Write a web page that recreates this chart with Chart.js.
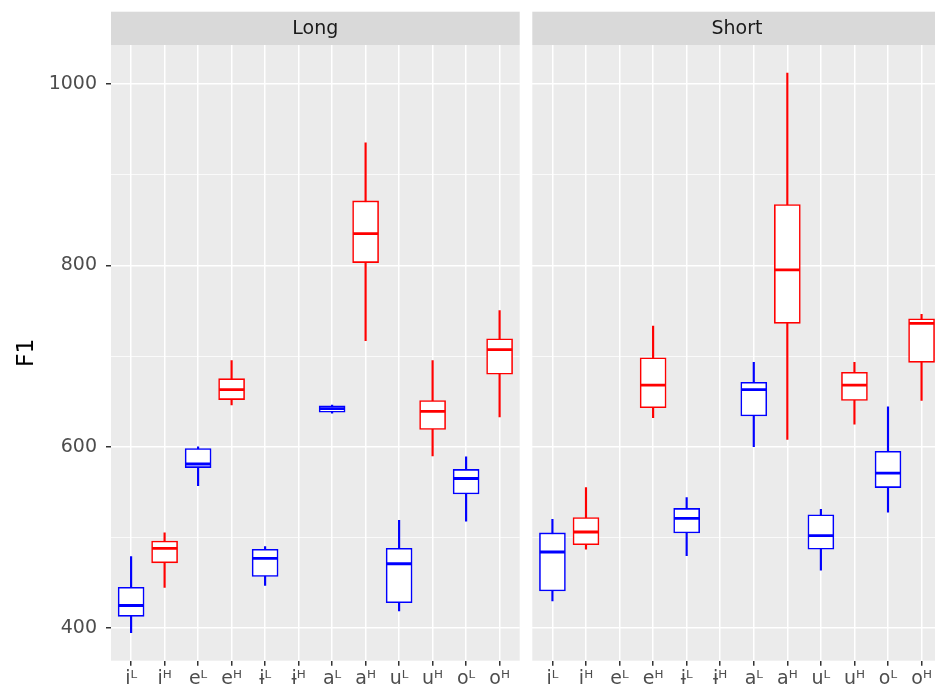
<!DOCTYPE html>
<html>
<head>
<meta charset="utf-8">
<script src="https://cdn.jsdelivr.net/npm/chart.js@4.4.1/dist/chart.umd.min.js"></script>
<style>
  html, body { margin: 0; padding: 0; background: #ffffff; overflow: hidden; width: 935px; height: 690px; }
  #wrap { position: relative; width: 935px; height: 690px; overflow: hidden; }
  canvas { position: absolute; top: 0; }
  #long { left: 0; }
  #short { left: 517px; }
</style>
</head>
<body>
<div id="wrap">
  <canvas id="long" width="535" height="690"></canvas>
  <canvas id="short" width="440" height="690"></canvas>
</div>
<script>
// Vowel categories (L = low tone, H = high tone)
const categories = ['iᴸ', 'iᴴ', 'eᴸ', 'eᴴ', 'ɨᴸ', 'ɨᴴ', 'aᴸ', 'aᴴ', 'uᴸ', 'uᴴ', 'oᴸ', 'oᴴ'];
const tones      = ['L',  'H',  'L',  'H',  'L',  'H',  'L',  'H',  'L',  'H',  'L',  'H'];

// F1 box-plot statistics, long vowels
const longMin    = [395, 445, 557, 646, 447, null, 637, 717, 419, 590, 518, 633];
const longQ1     = [413, 472, 577, 652, 457, null, 638, 803, 428, 619, 548, 680];
const longMedian = [425, 488, 581, 663, 477, null, 642, 835, 471, 639, 565, 707];
const longQ3     = [445, 496, 598, 675, 487, null, 645, 871, 488, 651, 575, 719];
const longMax    = [479, 505, 600, 695, 490, null, 646, 935, 519, 695, 589, 750];

// F1 box-plot statistics, short vowels
const shortMin    = [430, 487, null, 632, 480, null, 600, 608, 464, 625, 528, 651];
const shortQ1     = [441, 492, null, 643, 505, null, 634, 736, 487, 651, 555, 693];
const shortMedian = [484, 506, null, 668, 521, null, 663, 795, 502, 668, 571, 736];
const shortQ3     = [505, 522, null, 698, 532, null, 671, 867, 525, 682, 595, 741];
const shortMax    = [520, 555, null, 733, 544, null, 693, 1012, 531, 693, 644, 746];

const toneColor = { L: '#0000FF', H: '#FF0000' };

// shared y range with 5% expansion, like ggplot
const allVals = [...longMin, ...longMax, ...shortMin, ...shortMax].filter(v => v !== null);
const dataLo = Math.min(...allVals), dataHi = Math.max(...allVals);
const yPad = (dataHi - dataLo) * 0.05;
const yMin = dataLo - yPad, yMax = dataHi + yPad;

Chart.defaults.font.family = '"DejaVu Sans", sans-serif';

// grey panel background and facet strip
const panelPlugin = {
  id: 'panel',
  beforeDraw(chart, args, opts) {
    const { ctx, chartArea: a } = chart;
    ctx.save();
    ctx.fillStyle = '#EBEBEB';
    ctx.fillRect(a.left, a.top, a.right - a.left, a.bottom - a.top);
    ctx.fillStyle = '#D9D9D9';
    ctx.fillRect(a.left, opts.stripTop, a.right - a.left, a.top - opts.stripTop);
    ctx.fillStyle = '#1A1A1A';
    ctx.font = '19px "DejaVu Sans", sans-serif';
    ctx.textAlign = 'center';
    ctx.textBaseline = 'middle';
    ctx.fillText(opts.label, (a.left + a.right) / 2, (opts.stripTop + a.top) / 2 + 1);
    ctx.restore();
  }
};

function boxDatasets(lo, q1, med, q3, hi) {
  const idx = categories.map((_, i) => i).filter(i => med[i] !== null);
  const col = i => toneColor[tones[i]];
  return [
    { // whiskers
      type: 'bar', order: 3, grouped: false,
      data: idx.map(i => ({ x: i, y: [lo[i], hi[i]] })),
      backgroundColor: idx.map(col), borderWidth: 0, barThickness: 1.5
    },
    { // boxes
      type: 'bar', order: 2, grouped: false,
      data: idx.map(i => ({ x: i, y: [q1[i], q3[i]] })),
      backgroundColor: '#FFFFFF', borderColor: idx.map(col),
      borderWidth: 1.6, borderSkipped: false, barThickness: 26
    },
    { // medians
      type: 'line', order: 1, showLine: false,
      data: idx.map(i => ({ x: i, y: med[i] })),
      pointStyle: 'line', pointRadius: 12.5, pointHoverRadius: 12.5,
      pointBorderColor: idx.map(col), pointBorderWidth: 2.8
    }
  ];
}

function makeChart(id, label, datasets, withYAxis) {
  const majorY = v => v % 200 === 0;
  return new Chart(document.getElementById(id), {
    type: 'bar',
    data: { datasets },
    plugins: [panelPlugin],
    options: {
      responsive: false,
      animation: false,
      events: [],
      layout: { padding: { top: 45, left: 0, right: 0, bottom: 0 } },
      plugins: {
        legend: { display: false },
        tooltip: { enabled: false },
        panel: { label, stripTop: 11.7 }
      },
      scales: {
        x: {
          type: 'linear', min: -0.6, max: categories.length - 0.4,
          offset: false,
          afterFit: s => { s.height = 29.3; s.paddingLeft = 0; s.paddingRight = 0; },
          border: { display: false },
          grid: { offset: false, color: '#FFFFFF', lineWidth: 1.5, tickColor: '#333333', tickLength: 5, tickWidth: 1.5 },
          ticks: {
            stepSize: 1, includeBounds: false, maxTicksLimit: 30, autoSkip: false, maxRotation: 0,
            color: '#4D4D4D', font: { size: 19 }, padding: 2,
            callback: v => categories[v] ?? ''
          }
        },
        y: {
          min: yMin, max: yMax,
          afterFit: s => { s.width = withYAxis ? 111 : 0; },
          border: { display: false },
          grid: {
            color: '#FFFFFF',
            lineWidth: c => (c.tick && majorY(c.tick.value)) ? 1.5 : 0.75,
            drawTicks: withYAxis,
            tickColor: c => (c.tick && majorY(c.tick.value)) ? '#333333' : 'rgba(0,0,0,0)',
            tickLength: 5, tickWidth: 1.5
          },
          ticks: {
            display: withYAxis, stepSize: 100, includeBounds: false, maxTicksLimit: 30,
            color: '#4D4D4D', font: { size: 19 }, padding: 9,
            callback: v => majorY(v) ? String(v) : ''
          },
          title: {
            display: withYAxis, text: 'F1', color: '#000000',
            font: { size: 23.5 }, padding: { top: 13, bottom: 0 }
          }
        }
      }
    }
  });
}

makeChart('long', 'Long', boxDatasets(longMin, longQ1, longMedian, longQ3, longMax), true);
makeChart('short', 'Short', boxDatasets(shortMin, shortQ1, shortMedian, shortQ3, shortMax), false);
</script>
</body>
</html>
